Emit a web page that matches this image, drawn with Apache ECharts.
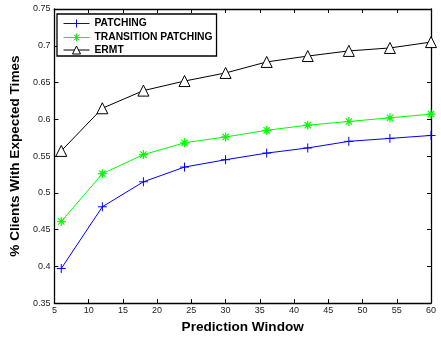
<!DOCTYPE html>
<html><head><meta charset="utf-8">
<script src="https://cdn.jsdelivr.net/npm/echarts@6/dist/echarts.min.js"></script>
<style>html,body{margin:0;padding:0;background:#fff}#c{width:441px;height:339px}</style>
</head><body><div id="c"></div>
<script>
var windows = [6, 12, 18, 24, 30, 36, 42, 48, 54, 60];
var patching = [0.397, 0.481, 0.515, 0.535, 0.545, 0.554, 0.561, 0.570, 0.574, 0.578];
var transition = [0.461, 0.526, 0.552, 0.568, 0.576, 0.585, 0.592, 0.597, 0.602, 0.607];
var ermt = [0.557, 0.615, 0.639, 0.652, 0.663, 0.678, 0.686, 0.693, 0.697, 0.705];
var seriesNames = ['PATCHING', 'TRANSITION PATCHING', 'ERMT'];
var seriesColors = ['#0000ff', '#00ff00', '#000000'];

function pairs(vals){ return windows.map(function(x,i){ return [x, vals[i]]; }); }
var FONT = 'Liberation Sans, Arial, sans-serif';
var plusPath = 'path://M5,0L5,10M0,5L10,5';
var starPath = 'path://M5,0L5,10M0,5L10,5M1.5,1.5L8.5,8.5M8.5,1.5L1.5,8.5';
var triPath = 'path://M5,0L10,9L0,9Z';
var symbols = [plusPath, starPath, triPath];
var fills = ['none', 'none', '#ffffff'];

var chart = echarts.init(document.getElementById('c'), null, {renderer:'canvas'});
var axisCommon = {
  axisLine:{show:true, onZero:false, lineStyle:{color:'#000', width:1.3}},
  axisTick:{show:true, inside:true, length:4, lineStyle:{color:'#000', width:1}},
  splitLine:{show:false}
};
chart.setOption({
  animation:false,
  backgroundColor:'#fff',
  grid:{left:51, right:10, top:9, bottom:31, containLabel:false},
  legend:{
    left:57, top:14, orient:'vertical', itemGap:1, itemWidth:26, itemHeight:10, itemTextGap:8,
    padding:[3,4,1,6], borderColor:'#000', borderWidth:1.3, backgroundColor:'#fff',
    textStyle:{fontFamily:FONT, fontWeight:'bold', fontSize:10.3, color:'#000'},
    data:seriesNames.map(function(n,i){
      return {name:n,
        itemStyle:{color:fills[i], borderColor:seriesColors[i], borderWidth:1},
        lineStyle:{color:seriesColors[i], width:1}};
    })
  },
  xAxis:[
    Object.assign({type:'value', min:5, max:60, interval:5, position:'bottom',
      name:'Prediction Window', nameLocation:'middle', nameGap:16,
      nameTextStyle:{fontFamily:FONT, fontWeight:'bold', fontSize:13.6, color:'#000'},
      axisLabel:{fontFamily:FONT, fontSize:9, color:'#222', margin:3}}, axisCommon),
    Object.assign({type:'value', min:5, max:60, interval:5, position:'top',
      axisLabel:{show:false}}, axisCommon)
  ],
  yAxis:[
    Object.assign({type:'value', min:0.35, max:0.75, interval:0.05, position:'left',
      name:'% Clients With Expected Times', nameLocation:'middle', nameGap:28,
      nameTextStyle:{fontFamily:FONT, fontWeight:'bold', fontSize:13.6, color:'#000'},
      axisLabel:{fontFamily:FONT, fontSize:9, color:'#222', margin:4,
        formatter:function(v){ return String(parseFloat(v.toFixed(2))); }}}, axisCommon),
    Object.assign({type:'value', min:0.35, max:0.75, interval:0.05, position:'right',
      axisLabel:{show:false}}, axisCommon)
  ],
  series:[patching, transition, ermt].map(function(vals, i){
    return {name:seriesNames[i], type:'line', data:pairs(vals), symbol:symbols[i],
      symbolSize: i === 2 ? 11 : 9,
      lineStyle:{color:seriesColors[i], width:1},
      itemStyle:{color:fills[i], borderColor:seriesColors[i], borderWidth: i === 1 ? 1.2 : 1}};
  })
});
</script></body></html>
